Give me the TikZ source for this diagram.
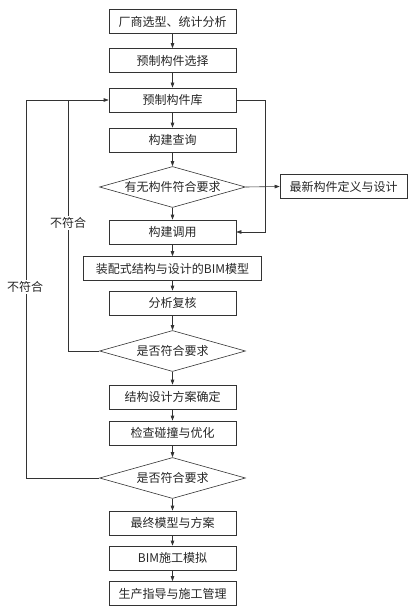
\documentclass[tikz,border=0pt]{standalone}
\usepackage{fontspec}
\setmainfont{Noto Sans CJK SC}
\usetikzlibrary{shapes.geometric,arrows.meta}
\begin{document}
\begin{tikzpicture}[x=1pt,y=-1pt,
  every node/.style={font=\fontsize{12}{14}\selectfont, text=black!85},
  box/.style={draw=black!80, line width=0.6pt, minimum width=127pt, minimum height=24pt, inner sep=0pt},
  dia/.style={draw=black!80, line width=0.6pt, shape=diamond, aspect=3.56, minimum width=146pt, minimum height=41pt, inner sep=0pt},
  conn/.style={draw=black!80, line width=0.6pt},
  arr/.style={conn, -{Triangle[length=5pt,width=3.5pt]}},
  lbl/.style={fill=white, inner sep=1pt}
]
\useasboundingbox (0,0) rectangle (417,615);
\node[box] (b1) at (172.5,21.5) {厂商选型、统计分析};
\node[box] (b2) at (172.5,60.5) {预制构件选择};
\node[box] (b3) at (172.5,100) {预制构件库};
\node[box] (b4) at (172.5,140) {构建查询};
\node[dia] (d1) at (172.5,187) {有无构件符合要求};
\node[box] (rb) at (343.5,186.5) {最新构件定义与设计};
\node[box] (b5) at (172.5,232) {构建调用};
\node[box, minimum width=178pt] (b6) at (172.5,268.5) {装配式结构与设计的BIM模型};
\node[box] (b7) at (172.5,303) {分析复核};
\node[dia] (d2) at (172.5,351) {是否符合要求};
\node[box] (b8) at (172.5,397) {结构设计方案确定};
\node[box] (b9) at (172.5,433) {检查碰撞与优化};
\node[dia] (d3) at (172.5,478) {是否符合要求};
\node[box] (b10) at (172.5,523) {最终模型与方案};
\node[box] (b11) at (172.5,558) {BIM施工模拟};
\node[box] (b12) at (172.5,593.5) {生产指导与施工管理};

\draw[arr] (b1) -- (b2);
\draw[arr] (b2) -- (b3);
\draw[arr] (b3) -- (b4);
\draw[arr] (b4) -- (d1);
\draw[arr] (d1) -- (b5);
\draw[arr] (b5) -- (b6);
\draw[arr] (b6) -- (b7);
\draw[arr] (b7) -- (d2);
\draw[arr] (d2) -- (b8);
\draw[arr] (b8) -- (b9);
\draw[arr] (b9) -- (d3);
\draw[arr] (d3) -- (b10);
\draw[arr] (b10) -- (b11);
\draw[arr] (b11) -- (b12);
\draw[arr] (d1.east) -- (rb.west);

\coordinate (rr) at (265,100);
\draw[arr] (b3.east) -- (rr) |- (b5.east);

\coordinate (jin) at (68,100);
\coordinate (jout) at (26,100);
\draw[conn] (d2.west) -| (jin);
\draw[arr] (d3.west) -| (jout) -- (b3.west);

\node[lbl] (l1) at (68,223) {不符合};
\node[lbl] (l2) at (25,287) {不符合};
\end{tikzpicture}
\end{document}
